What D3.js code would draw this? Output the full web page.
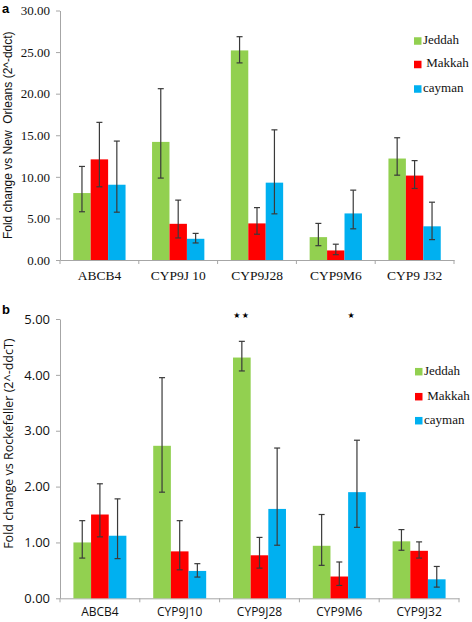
<!DOCTYPE html>
<html><head><meta charset="utf-8">
<script src="https://cdn.jsdelivr.net/npm/d3@7"></script>
<style>
html,body{margin:0;padding:0;background:#fff;}
svg{display:block;}
text{white-space:pre;}
</style>
</head><body>
<svg id="chart" width="472" height="622"></svg>
<script>
// ---- Data ----
const series = ["Jeddah", " Makkah", "cayman"];
const colors = ["#92d050", "#ff0000", "#00b0f0"];

// Panel a
const catsA = ["ABCB4", "CYP9J 10", "CYP9J28", "CYP9M6", "CYP9 J32"];
const jeddahA = [8.05, 14.2, 25.2, 2.75, 12.2];
const makkahA = [12.1, 4.35, 4.4, 1.15, 10.15];
const caymanA = [9.05, 2.55, 9.3, 5.6, 4.05];
const jeddahAErr = [[5.8, 11.25], [9.85, 20.6], [23.7, 26.85], [1.72, 4.4], [10.2, 14.7]];
const makkahAErr = [[8.8, 16.55], [2.65, 7.2], [3.1, 6.3], [0.64, 1.9], [8.6, 11.95]];
const caymanAErr = [[5.75, 14.3], [2.05, 3.2], [5.55, 15.65], [3.75, 8.4], [2.45, 6.95]];
const ticksA = ["0.00", "5.00", "10.00", "15.00", "20.00", "25.00", "30.00"];
const titleA = "Fold change vs New  Orleans (2^-ddct)";

// Panel b
const catsB = ["ABCB4", "CYP9J10", "CYP9J28", "CYP9M6", "CYP9J32"];
const jeddahB = [1.0, 2.73, 4.31, 0.94, 1.02];
const makkahB = [1.5, 0.84, 0.77, 0.39, 0.85];
const caymanB = [1.12, 0.49, 1.6, 1.9, 0.34];
const jeddahBErr = [[0.72, 1.39], [1.9, 3.95], [4.07, 4.6], [0.59, 1.5], [0.86, 1.23]];
const makkahBErr = [[1.1, 2.05], [0.51, 1.39], [0.54, 1.09], [0.23, 0.65], [0.72, 1.01]];
const caymanBErr = [[0.71, 1.78], [0.38, 0.62], [0.95, 2.69], [1.27, 2.83], [0.2, 0.57]];
const ticksB = ["0.00", "1.00", "2.00", "3.00", "4.00", "5.00"];
const titleB = "Fold change vs Rockefeller (2^-ddcT)";
// significance marks (panel b): category, series index, text
const marksB = [{cat: "CYP9J28", s: 0, text: "\u2605\u2605", dx: 0}, {cat: "CYP9M6", s: 2, text: "\u2605", dx: -5}];

const svg = d3.select("#chart");

function panel(cfg) {
  const g = svg.append("g");
  const x0 = d3.scaleBand().domain(cfg.cats).range([cfg.left, cfg.right]).padding(0);
  const x1 = d3.scaleBand().domain(d3.range(3)).range([0, x0.bandwidth()]).paddingInner(0).paddingOuter(0.76);
  const tickVals = cfg.ticks.map(Number);
  const y = d3.scaleLinear().domain([0, d3.max(tickVals)]).range([cfg.bottom, cfg.top]);

  // y axis
  const yAxis = d3.axisLeft(y).tickValues(tickVals).tickFormat((d, i) => cfg.ticks[i]).tickSize(4).tickSizeOuter(0).tickPadding(6);
  const ya = g.append("g").attr("transform", `translate(${cfg.left},0)`).call(yAxis);
  ya.select(".domain").attr("stroke", "#a6a6a6");
  ya.selectAll(".tick line").attr("stroke", "#a6a6a6");
  ya.selectAll("text").attr("font-family", cfg.tickFont).attr("font-size", cfg.tickSize).attr("fill", "#111");

  // x axis
  const xAxis = d3.axisBottom(x0).tickSize(0).tickSizeOuter(0).tickPadding(cfg.xPad);
  const xa = g.append("g").attr("transform", `translate(0,${cfg.bottom})`).call(xAxis);
  xa.select(".domain").attr("stroke", "#a6a6a6");
  xa.selectAll("text").attr("font-family", cfg.catFont).attr("font-size", cfg.catSize).attr("fill", "#111");
  // boundary tick marks between categories
  const bounds = cfg.cats.map(c => x0(c)).concat([x0.range()[1]]);
  g.append("g").selectAll("line").data(bounds).join("line")
    .attr("x1", d => d).attr("x2", d => d)
    .attr("y1", cfg.bottom).attr("y2", cfg.bottom + 4)
    .attr("stroke", "#a6a6a6");

  // bars
  const vals = [cfg.v0, cfg.v1, cfg.v2];
  const errs = [cfg.e0, cfg.e1, cfg.e2];
  const rows = [];
  cfg.cats.forEach((c, ci) => {
    for (let s = 0; s < 3; s++) rows.push({c, s, v: vals[s][ci], e: errs[s][ci]});
  });
  g.append("g").selectAll("rect").data(rows).join("rect")
    .attr("x", d => x0(d.c) + x1(d.s))
    .attr("width", x1.bandwidth())
    .attr("y", d => y(d.v))
    .attr("height", d => y(0) - y(d.v))
    .attr("fill", d => colors[d.s]);

  // error bars
  const eg = g.append("g").attr("stroke", "#3a3a3a").attr("stroke-width", 1.2);
  rows.forEach(d => {
    const cx = x0(d.c) + x1(d.s) + x1.bandwidth() / 2;
    eg.append("line").attr("x1", cx).attr("x2", cx).attr("y1", y(d.e[0])).attr("y2", y(d.e[1]));
    eg.append("line").attr("x1", cx - 3).attr("x2", cx + 3).attr("y1", y(d.e[0])).attr("y2", y(d.e[0]));
    eg.append("line").attr("x1", cx - 3).attr("x2", cx + 3).attr("y1", y(d.e[1])).attr("y2", y(d.e[1]));
  });

  // y title
  g.append("text")
    .attr("transform", `translate(${cfg.titleX},${(cfg.top + cfg.bottom) / 2 + cfg.titleDy}) rotate(-90)`)
    .attr("text-anchor", "middle").attr("dominant-baseline", "middle")
    .attr("font-family", cfg.titleFont).attr("font-size", cfg.titleSize).attr("fill", "#111")
    .text(cfg.title);

  // panel letter
  g.append("text").attr("x", 2).attr("y", cfg.letterY)
    .attr("font-family", "Liberation Sans, Arial, sans-serif").attr("font-weight", "bold")
    .attr("font-size", 13).attr("fill", "#000").text(cfg.letter);

  // legend
  const lg = g.append("g");
  series.forEach((s, i) => {
    const yy = cfg.legY[i];
    lg.append("rect").attr("x", cfg.legX).attr("y", yy - 3.75).attr("width", 7.5).attr("height", 7.5).attr("fill", colors[i]);
    lg.append("text").attr("x", cfg.legX + 9).attr("y", yy).attr("dominant-baseline", "middle")
      .attr("font-family", "Liberation Serif, Times New Roman, serif").attr("font-size", 13).attr("fill", "#111").text(s);
  });

  // marks
  (cfg.marks || []).forEach(m => {
    const cx = x0(m.cat) + x1(m.s) + x1.bandwidth() / 2 + m.dx;
    g.append("text").attr("x", cx).attr("y", y(d3.max(tickVals)) - 4)
      .attr("text-anchor", "middle").attr("dominant-baseline", "middle")
      .attr("font-family", "DejaVu Sans, sans-serif").attr("font-size", 8).attr("letter-spacing", 1.5).attr("fill", "#000").text(m.text);
  });
}

panel({
  cats: catsA, v0: jeddahA, v1: makkahA, v2: caymanA, e0: jeddahAErr, e1: makkahAErr, e2: caymanAErr,
  ticks: ticksA, left: 60, right: 454, top: 10.5, bottom: 260,
  tickFont: "Liberation Serif, Times New Roman, serif", tickSize: 13,
  catFont: "Liberation Serif, Times New Roman, serif", catSize: 13.5, xPad: 10,
  title: titleA, titleFont: "Liberation Sans, Arial, sans-serif", titleSize: 12, titleX: 9, titleDy: 0,
  letter: "a", letterY: 13, legX: 414, legY: [41, 64.5, 89]
});

panel({
  cats: catsB, v0: jeddahB, v1: makkahB, v2: caymanB, e0: jeddahBErr, e1: makkahBErr, e2: caymanBErr,
  ticks: ticksB, left: 60, right: 459, top: 319, bottom: 598.3,
  tickFont: "Open Sans, sans-serif", tickSize: 13,
  catFont: "Open Sans, sans-serif", catSize: 12, xPad: 9,
  title: titleB, titleFont: "Open Sans, sans-serif", titleSize: 12.5, titleX: 9.5, titleDy: -15,
  letter: "b", letterY: 314, legX: 415, legY: [371.7, 396.7, 420.7], marks: marksB
});
</script>
</body></html>
